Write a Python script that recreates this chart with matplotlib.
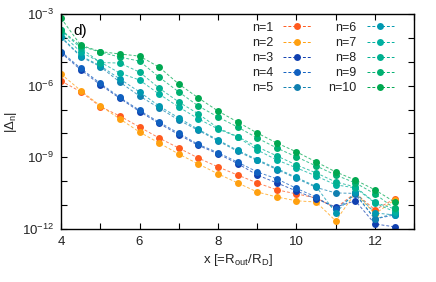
import numpy as np
import matplotlib
matplotlib.use('Agg')
import matplotlib.pyplot as plt

matplotlib.rcParams['font.family'] = 'Liberation Sans'
matplotlib.rcParams['font.size'] = 9.5
matplotlib.rcParams['mathtext.default'] = 'regular'

x = [4.0, 4.5, 5.0, 5.5, 6.0, 6.5, 7.0, 7.5, 8.0, 8.5, 9.0, 9.5, 10.0, 10.5, 11.0, 11.5, 12.0, 12.5]

# log10 |Delta_n|
log_d = {
    1: [-5.80, -6.25, -6.87, -7.27, -7.73, -8.19, -8.61, -9.03, -9.40, -9.74, -10.07, -10.36, -10.53, -10.70, -11.12, -10.49, -11.20, -10.74],
    2: [-5.51, -6.20, -6.84, -7.39, -7.94, -8.40, -8.86, -9.28, -9.69, -10.07, -10.45, -10.66, -10.82, -10.87, -11.66, -10.49, -11.37, -10.78],
    3: [-4.62, -5.33, -5.96, -6.53, -7.08, -7.58, -8.05, -8.50, -8.85, -9.26, -9.74, -10.07, -10.41, -10.74, -11.08, -10.82, -11.79, -11.91],
    4: [-4.57, -5.27, -5.90, -6.49, -7.03, -7.53, -7.99, -8.46, -8.80, -9.20, -9.61, -9.90, -10.30, -10.66, -11.16, -10.55, -11.58, -11.41],
    5: [-3.98, -4.78, -5.20, -5.85, -6.43, -6.93, -7.44, -7.87, -8.31, -8.75, -9.13, -9.51, -9.88, -10.26, -10.49, -10.51, -11.58, -11.35],
    6: [-3.95, -4.75, -5.16, -5.72, -6.26, -6.85, -7.35, -7.83, -8.27, -8.71, -9.09, -9.47, -9.84, -10.22, -11.33, -10.47, -11.33, -11.41],
    7: [-3.79, -4.59, -5.01, -5.47, -5.76, -6.35, -6.89, -7.39, -7.81, -8.15, -8.69, -9.11, -9.44, -9.78, -10.15, -10.28, -10.91, -11.28],
    8: [-3.67, -4.42, -5.03, -5.05, -5.43, -6.10, -6.68, -7.18, -7.77, -8.13, -8.56, -8.94, -9.32, -9.65, -10.03, -10.24, -10.89, -11.16],
    9: [-3.65, -4.34, -4.59, -4.80, -4.97, -5.64, -6.26, -6.85, -7.31, -7.73, -8.19, -8.61, -8.98, -9.36, -9.74, -10.07, -10.53, -11.14],
    10: [-3.17, -4.30, -4.57, -4.67, -4.76, -5.22, -5.93, -6.51, -7.06, -7.52, -7.98, -8.40, -8.77, -9.19, -9.61, -9.95, -10.36, -10.87],
}
colors = {1: '#ff5a1e', 2: '#ffa010', 3: '#1040b0', 4: '#1060c0', 5: '#1080b0',
          6: '#0098b0', 7: '#00b0a0', 8: '#00b090', 9: '#00b070', 10: '#00a850'}

fig = plt.figure(figsize=(4.36, 2.82), dpi=100)
ax = fig.add_axes([0.140, 0.188, 0.810, 0.762])

handles = []
for n in range(1, 11):
    y = 10 ** np.array(log_d[n])
    ax.plot(x, y, '--', color=colors[n], lw=0.7, alpha=0.75, dashes=(3, 2))
    ax.plot(x, y, 'o', color=colors[n], ms=5, mec='none')
    h, = ax.plot([], [], '--o', color=colors[n], lw=0.7, ms=5, mec='none', dashes=(3, 2))
    handles.append(h)

ax.set_yscale('log')
ax.set_xlim(4, 13)
ax.set_ylim(1e-12, 1e-3)
ax.set_xticks(range(4, 14))
ax.set_xticklabels([str(v) if v % 2 == 0 and v < 13 else '' for v in range(4, 14)])
ax.set_yticks([10.0 ** -k for k in range(3, 13)])
ax.set_yticklabels(['$10^{-%d}$' % k if k % 3 == 0 else '' for k in range(3, 13)])
ax.minorticks_off()
ax.tick_params(direction='in', top=True, right=True, length=4, width=0.8, pad=5,
               labelcolor='#222222')
for s in ax.spines.values():
    s.set_linewidth(1.0)

ax.set_xlabel('x [=R$_{out}$/R$_D$]', labelpad=3, color='#222222')
ax.set_ylabel('|$\\Delta_n$|', labelpad=2, color='#222222')
ax.text(0.034, 0.92, 'd)', transform=ax.transAxes, fontsize=11, va='center')

ax.legend(handles, ['n=%d' % n for n in range(1, 11)], ncol=2, markerfirst=False,
          frameon=False, loc='upper right', bbox_to_anchor=(0.968, 1.005),
          handlelength=2.2, labelspacing=0.25, columnspacing=1.4, handletextpad=0.8,
          borderpad=0.2, fontsize=9, labelcolor='#222222')

fig.savefig('out.png', dpi=100)
